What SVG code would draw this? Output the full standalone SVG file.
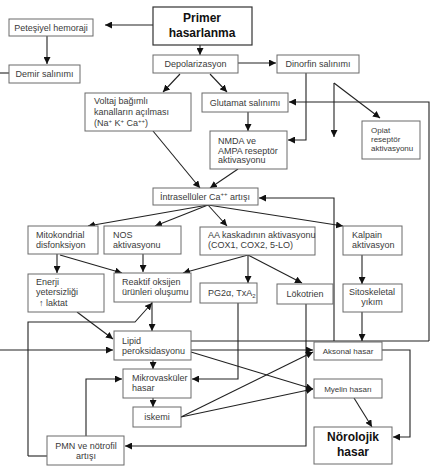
<svg xmlns="http://www.w3.org/2000/svg" width="433" height="475" viewBox="0 0 433 475">
<style>
.b{fill:#fff;stroke:#6a6a6a;stroke-width:1}
.t{font-family:"Liberation Sans",Arial,sans-serif;font-size:9px;fill:#3a3a3a}
.s{font-size:8px}
.c{text-anchor:middle}
.bold{font-family:"Liberation Sans",Arial,sans-serif;font-weight:bold;font-size:12px;fill:#111;text-anchor:middle}
.e{fill:none;stroke:#222;stroke-width:1.1}
.g{fill:none;stroke:#555;stroke-width:1}
</style>
<defs>
<marker id="a" viewBox="0 0 10 10" refX="10" refY="5" markerWidth="7" markerHeight="7" markerUnits="userSpaceOnUse" orient="auto"><path d="M0,0L10,5L0,10z" fill="#111"/></marker>
</defs>
<rect width="433" height="475" fill="#fff"/>
<g id="connectors">
<path class="e" d="M153,25H105" marker-end="url(#a)"/>
<path class="e" d="M47,36V64" marker-end="url(#a)"/>
<path class="e" d="M0,73H9"/>
<path class="e" d="M200,45V55" marker-end="url(#a)"/>
<path class="e" d="M238,63H276" marker-end="url(#a)"/>
<path class="e" d="M180,74L163,92" marker-end="url(#a)"/>
<path class="e" d="M210,74L227,92" marker-end="url(#a)"/>
<path class="e" d="M248,112V131" marker-end="url(#a)"/>
<path class="e" d="M306,73V140H288" marker-end="url(#a)"/>
<path class="e" d="M334,83V137" marker-end="url(#a)"/>
<path class="e" d="M334,83L380,118" marker-end="url(#a)"/>
<path class="e" d="M429,341V102H289" marker-end="url(#a)"/>
<path class="e" d="M191,341H429"/>
<path class="e" d="M334,341V198H259" marker-end="url(#a)"/>
<path class="e" d="M153,131L200,188" marker-end="url(#a)"/>
<path class="e" d="M238,169L210,188" marker-end="url(#a)"/>
<path class="e" d="M208,205L88,226" marker-end="url(#a)"/>
<path class="e" d="M208,205L155,226" marker-end="url(#a)"/>
<path class="e" d="M208,205L227,226" marker-end="url(#a)"/>
<path class="e" d="M208,205L343,226" marker-end="url(#a)"/>
<path class="e" d="M57,254V273" marker-end="url(#a)"/>
<path class="e" d="M60,255L122,273" marker-end="url(#a)"/>
<path class="e" d="M143,254V272" marker-end="url(#a)"/>
<path class="e" d="M248,255L183,273" marker-end="url(#a)"/>
<path class="e" d="M248,255V283" marker-end="url(#a)"/>
<path class="e" d="M248,255L302,283" marker-end="url(#a)"/>
<path class="e" d="M362,255V284" marker-end="url(#a)"/>
<path class="e" d="M362,312V341" marker-end="url(#a)"/>
<path class="e" d="M152,302V331" marker-end="url(#a)"/>
<path class="e" d="M77,312L113,339" marker-end="url(#a)"/>
<path class="e" d="M0,350H113" marker-end="url(#a)"/>
<path class="e" d="M28,456V322H135L152,303" marker-end="url(#a)"/>
<path class="e" d="M153,360V369" marker-end="url(#a)"/>
<path class="e" d="M153,398V407" marker-end="url(#a)"/>
<path class="e" d="M238,303V379H192" marker-end="url(#a)"/>
<path class="e" d="M306,304V446H125" marker-end="url(#a)"/>
<path class="e" d="M86,436V379H122" marker-end="url(#a)"/>
<path class="e" d="M191,350H313" marker-end="url(#a)"/>
<path class="e" d="M191,352L313,389" marker-end="url(#a)"/>
<path class="e" d="M181,417L313,352" marker-end="url(#a)"/>
<path class="e" d="M181,417L313,389" marker-end="url(#a)"/>
<path class="e" d="M382,350H410V437H393" marker-end="url(#a)"/>
<path class="e" d="M354,398L372,427" marker-end="url(#a)"/>
<path class="e" d="M28,456H47"/>
</g>
<g id="petesiyel"><rect class="b" x="9" y="19" width="84" height="17"/><text class="t c" x="51" y="30.5">Peteşiyel hemoraji</text></g>
<g id="demir"><rect class="b" x="9" y="65" width="71" height="18"/><text class="t c" x="44.5" y="77">Demir salınımı</text></g>
<g id="primer"><rect class="b" x="153" y="7" width="99" height="38" style="stroke:#333;stroke-width:1.2"/><text class="bold" x="202" y="22">Primer</text><text class="bold" x="202" y="37">hasarlanma</text></g>
<g id="depol"><rect class="b" x="153" y="55" width="85" height="18"/><text class="t c" x="195.5" y="67">Depolarizasyon</text></g>
<g id="dinorfin"><rect class="b" x="277" y="55" width="82" height="18"/><text class="t c" x="318" y="67">Dinorfin salınımı</text></g>
<g id="voltaj"><rect class="b" x="85" y="93" width="106" height="38"/><text class="t" x="94" y="104">Voltaj bağımlı</text><text class="t" x="94" y="115">kanalların açılması</text><text class="t" x="94" y="126">(Na<tspan font-size="6" dy="-3">+</tspan><tspan dy="3"> K</tspan><tspan font-size="6" dy="-3">+</tspan><tspan dy="3"> Ca</tspan><tspan font-size="6" dy="-3">++</tspan><tspan dy="3">)</tspan></text></g>
<g id="glutamat"><rect class="b" x="202" y="93" width="86" height="19"/><text class="t c" x="245" y="105.5">Glutamat salınımı</text></g>
<g id="nmda"><rect class="b" x="210" y="131" width="77" height="38"/><text class="t" x="218" y="144">NMDA ve</text><text class="t" x="218" y="153.5">AMPA reseptör</text><text class="t" x="218" y="163">aktivasyonu</text></g>
<g id="opiat"><rect class="b" x="362" y="121" width="58" height="38"/><text class="t s" x="371" y="133">Opiat</text><text class="t s" x="371" y="142">reseptör</text><text class="t s" x="371" y="151">aktivasyonu</text></g>
<g id="ca"><rect class="b" x="153" y="188" width="105" height="17"/><text class="t" x="160" y="200">İntrasellüler Ca<tspan font-size="6" dy="-4">++</tspan><tspan dy="4">  artışı</tspan></text></g>
<g id="mito"><rect class="b" x="28" y="226" width="70" height="28"/><text class="t" x="36" y="238">Mitokondrial</text><text class="t" x="36" y="248">disfonksiyon</text></g>
<g id="nos"><rect class="b" x="104" y="226" width="77" height="28"/><text class="t" x="113" y="238">NOS</text><text class="t" x="113" y="248">aktivasyonu</text></g>
<g id="aa"><rect class="b" x="200" y="227" width="115" height="28"/><text class="t" x="208" y="238">AA kaskadının aktivasyonu</text><text class="t" x="208" y="248">(COX1, COX2, 5-LO)</text></g>
<g id="kalpain"><rect class="b" x="343" y="226" width="59" height="29"/><text class="t" x="352" y="238">Kalpain</text><text class="t" x="352" y="248">aktivasyon</text></g>
<g id="enerji"><rect class="b" x="28" y="274" width="76" height="38"/><text class="t" x="36" y="285">Enerji</text><text class="t" x="36" y="295">yetersizliği</text><text class="t" x="39" y="306">↑ laktat</text></g>
<g id="reaktif"><rect class="b" x="114" y="273" width="77" height="29"/><text class="t" x="122" y="285">Reaktif oksijen</text><text class="t" x="122" y="294.5">ürünleri oluşumu</text></g>
<g id="pg"><rect class="b" x="200" y="283" width="57" height="20"/><text class="t" x="208" y="296">PG2α, TxA<tspan font-size="6" dy="2">2</tspan></text></g>
<g id="lokotrien"><rect class="b" x="277" y="284" width="56" height="20"/><text class="t c" x="305" y="296.5">Lökotrien</text></g>
<g id="sitoskeletal"><rect class="b" x="343" y="284" width="59" height="28"/><text class="t c" x="372" y="295">Sitoskeletal</text><text class="t c" x="372" y="304.5">yıkım</text></g>
<g id="lipid"><rect class="b" x="114" y="331" width="77" height="29"/><text class="t" x="122" y="344">Lipid</text><text class="t" x="122" y="354">peroksidasyonu</text></g>
<g id="aksonal"><rect class="b" x="314" y="342" width="68" height="18"/><text class="t s c" x="348" y="354">Aksonal hasar</text></g>
<g id="mikro"><rect class="b" x="123" y="369" width="68" height="29"/><text class="t" x="132" y="381">Mikrovasküler</text><text class="t" x="132" y="390.5">hasar</text></g>
<g id="myelin"><rect class="b" x="314" y="379" width="68" height="19"/><text class="t s c" x="348" y="391.5">Myelin hasarı</text></g>
<g id="iskemi"><rect class="b" x="133" y="407" width="48" height="20"/><text class="t c" x="157" y="420">iskemi</text></g>
<g id="pmn"><rect class="b" x="47" y="436" width="77" height="29"/><text class="t c" x="86" y="449">PMN ve nötrofil</text><text class="t c" x="86" y="459">artışı</text></g>
<g id="norolojik"><rect class="b" x="314" y="427" width="78" height="37"/><text class="bold" x="353" y="441">Nörolojik</text><text class="bold" x="353" y="456">hasar</text></g>
</svg>
